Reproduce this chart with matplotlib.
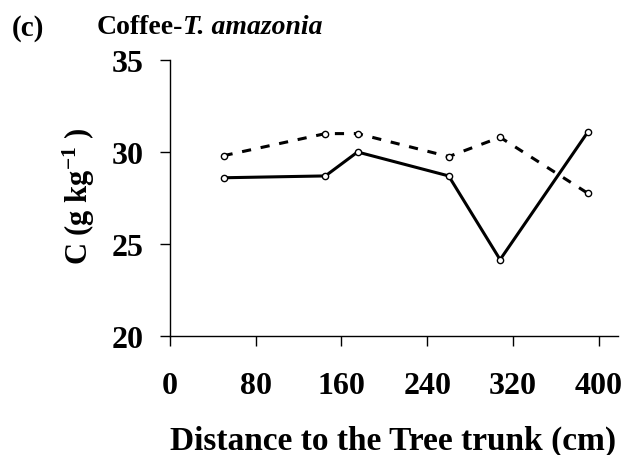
import matplotlib
matplotlib.use("Agg")
import matplotlib.pyplot as plt

distance_solid = [50, 145, 175, 260, 308, 390]
carbon_solid = [28.6, 28.7, 30.0, 28.7, 24.15, 31.1]
distance_dashed = [50, 145, 175, 260, 308, 390]
carbon_dashed = [29.8, 31.0, 31.0, 29.75, 30.8, 27.75]
x_ticks = [0, 80, 160, 240, 320, 400]
y_ticks = [20, 25, 30, 35]

plt.rcParams['font.family'] = ['Liberation Serif', 'DejaVu Serif']
plt.rcParams['mathtext.fontset'] = 'custom'
plt.rcParams['mathtext.rm'] = 'Liberation Serif:bold'
plt.rcParams['mathtext.it'] = 'Liberation Serif:bold:italic'
plt.rcParams['mathtext.bf'] = 'Liberation Serif:bold'

W, H = 624, 456
fig = plt.figure(figsize=(W/100, H/100), dpi=100)
ax = fig.add_axes([170/W, 1-337/H, (618-170)/W, (337-61)/H])

ax.plot(distance_solid, carbon_solid, color='black', lw=2.2, ls='-',
        marker='o', ms=4.5, mfc='white', mec='black', mew=1.0)
ax.plot(distance_dashed, carbon_dashed, color='black', lw=2.2, ls=(0, (3, 3.2)),
        marker='o', ms=4.5, mfc='white', mec='black', mew=1.0)

ax.set_xlim(0, 418)
ax.set_ylim(20, 35)
ax.set_xticks(x_ticks)
ax.set_yticks(y_ticks)
ax.spines['top'].set_visible(False)
ax.spines['right'].set_visible(False)
for s in ('left', 'bottom'):
    ax.spines[s].set_linewidth(1.0)
ax.tick_params(axis='both', direction='out', length=7, width=1.0, labelsize=23)
ax.tick_params(axis='y', pad=12)
ax.tick_params(axis='x', pad=18)
for lab in ax.get_xticklabels() + ax.get_yticklabels():
    lab.set_fontweight('bold')

fig.text(79/W, 1-196/H, 'C (g kg$^{-1}$ )', rotation=90, fontsize=22,
         fontweight='bold', ha='center', va='center')
fig.text(393/W, 1-441/H, 'Distance to the Tree trunk (cm)', fontsize=24,
         fontweight='bold', ha='center', va='center')

fig.text(12/W, 1-29/H, '(c)', fontsize=21, fontweight='bold', va='center')
t1 = fig.text(97/W, 1-27/H, 'Coffee-', fontsize=20, fontweight='bold', va='center')
fig.canvas.draw()
r = t1.get_window_extent()
fig.text(r.x1/W, 1-27/H, 'T. amazonia', fontsize=20, fontweight='bold',
         style='italic', va='center')

fig.savefig('out.png', dpi=100)
